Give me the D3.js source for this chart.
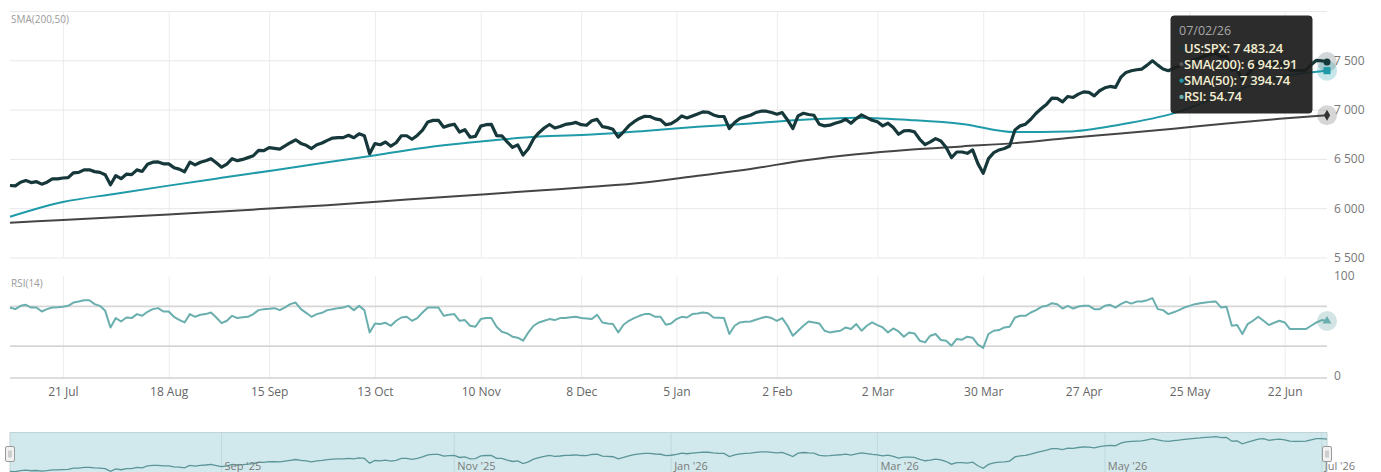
<!DOCTYPE html>
<html><head><meta charset="utf-8">
<script src="https://cdn.jsdelivr.net/npm/d3@7"></script>
<style>
body{margin:0;background:#fff}
svg{display:block;font-family:"Open Sans",sans-serif}
</style>
</head><body>
<svg id="c" width="1381" height="472"></svg>
<script>
// ---- DATA ----
const startDate = "2025-07-07", endDate = "2026-07-02";
const holidays = ["2025-09-01","2025-11-27","2025-12-25","2026-01-01","2026-01-19","2026-02-16","2026-04-03","2026-05-25","2026-06-19"];
const price = [
6230,6226,6263,6280,6260,6269,6244,6264,6297,6297,
6306,6310,6359,6363,6389,6390,6371,6363,6339,6238,
6330,6299,6345,6340,6389,6373,6446,6467,6469,6450,
6449,6411,6396,6370,6467,6439,6466,6481,6502,6460,
6416,6448,6502,6482,6495,6513,6532,6587,6584,6615,
6607,6600,6632,6664,6694,6657,6638,6605,6644,6661,
6688,6711,6715,6716,6740,6715,6754,6735,6553,6655,
6644,6671,6629,6664,6735,6735,6699,6738,6792,6875,
6891,6891,6822,6840,6852,6772,6796,6720,6729,6832,
6847,6851,6737,6734,6672,6617,6642,6539,6603,6705,
6766,6813,6849,6813,6829,6850,6857,6870,6847,6841,
6887,6901,6827,6817,6800,6721,6775,6835,6878,6910,
6932,6930,6906,6896,6846,6858,6890,6936,6916,6936,
6956,6977,6973,6946,6930,6930,6808,6869,6910,6926,
6943,6970,6984,6984,6970,6953,6970,6895,6808,6936,
6963,6950,6943,6852,6835,6842,6862,6876,6902,6862,
6909,6946,6919,6892,6876,6835,6862,6818,6750,6784,
6788,6774,6699,6645,6672,6706,6682,6615,6513,6570,
6570,6557,6591,6452,6354,6503,6564,6591,6605,6631,
6794,6835,6852,6902,6963,7011,7055,7116,7113,7078,
7133,7123,7157,7180,7174,7140,7191,7221,7235,7225,
7326,7377,7394,7404,7411,7451,7495,7451,7411,7394,
7420,7440,7470,7490,7510,7525,7545,7560,7575,7535,
7545,7400,7410,7300,7360,7420,7480,7500,7430,7460,
7480,7450,7400,7395,7395,7400,7455,7500,7495,7483.24];
const rsi = [
68.3,66.7,70,71,68.3,68.3,64.3,66.7,68.3,68.5,
69,70,73.3,74.3,75.7,75.7,71.7,70,65,48.3,
57.7,54.3,58.3,57.7,61.7,60,64,66.7,67.7,64.3,
64.3,59,56,53.3,61.7,59,61,61.7,63.3,58.3,
52.7,55,60,57.7,58.5,59,61.7,65.7,66.7,67,
67.7,65.7,68.5,71.7,73.3,66.7,63,59,61.7,63,
65.7,66.5,67.7,68.3,70,65.7,70,65.7,43.3,52.3,
51.7,53,50,55,58.3,59,55,57.7,63.3,68.3,
68.3,68.3,60,61,61.7,55,55.7,50,49,56.7,
57.7,57.7,49,44,42.3,39,38,35,43.3,50,
53.3,55,56.7,55.7,57.7,57.7,58.5,59,57.7,57.2,
56.7,61,53.3,52.3,51.7,43.3,51,55,57.7,60,
61.7,61.7,59,59,51,52.3,56.7,59,58.3,61.7,
62.3,63.3,62.5,58.3,58,57.7,41.7,50,53.3,54,
54.3,56,57.7,59,57.7,55,57.7,50,40,45,
50,54.3,53.3,52.3,45,43.3,44.3,45,48.3,46.7,
51.7,45,50,53.3,50.7,48.3,43.3,47.3,44.3,39,
43.3,42.3,35,33.3,40,41.7,35.7,35,30,36.7,
36,39,38,31,27.7,41.7,45,45.7,48.3,49,
58.3,60,60,63.3,65.7,69,70,72.7,71.7,67.3,
70,67.3,69.3,70,70,66.7,66.7,70,71,68.3,
71.7,74.3,72.3,74.3,74.3,75.7,77.7,66.7,65.7,61.7,
63.5,65.7,68.3,70,71.7,72.5,73.3,74,74.3,68.3,
69,50,50.7,41.7,51.7,55,59,55,50.7,53,
55,53.3,46.7,46.7,46.7,46.7,50,53.3,55.7,54.74];
const smaDates = ["2025-07-07","2025-07-21","2025-08-04","2025-08-18","2025-09-02","2025-09-16","2025-09-30","2025-10-14","2025-10-28","2025-11-11","2025-11-25","2025-12-10","2025-12-24","2026-01-09","2026-01-26","2026-02-09","2026-02-24","2026-03-10","2026-03-24","2026-04-08","2026-04-22","2026-05-06","2026-05-20","2026-06-04","2026-06-18","2026-07-02"];
const sma200 = [5853,5880,5907,5937,5967,5999,6031,6069,6105,6142,6180,6217,6261,6329,6398,6484,6548,6594,6627,6660,6712,6757,6806,6860,6906,6942.91];
const sma50 = [5913,6062,6147,6229,6308,6386,6465,6545,6625,6682,6726,6747,6784,6825,6859,6896,6918,6895,6855,6772,6778,6850,6962,7157,7329,7394.74];
const xTickDates = ["2025-07-21","2025-08-18","2025-09-15","2025-10-13","2025-11-10","2025-12-08","2026-01-05","2026-02-02","2026-03-02","2026-03-30","2026-04-27","2026-05-25","2026-06-22"];
const navTickDates = ["2025-09-01","2025-11-01","2026-01-01","2026-03-01","2026-05-01","2026-07-01"];
const priceGrid = [5500,6000,6500,7000,7500,8000];
const priceLabels = [5500,6000,6500,7000,7500];
const rsiLabels = [0,100];
const rsiLevels = [30,70];
const seriesNames = ["US:SPX","SMA(200)","SMA(50)","RSI"];

// ---- SETUP ----
const loc = d3.formatLocale({decimal:".",thousands:" ",grouping:[3],currency:["",""]});
const fInt = loc.format(","), f2 = loc.format(",.2f");
const parse = d3.utcParse("%Y-%m-%d"), iso = d3.utcFormat("%Y-%m-%d");
const hol = new Set(holidays);
const dates = [];
for (let d = parse(startDate); d <= parse(endDate); d = d3.utcDay.offset(d,1)) {
  const w = d.getUTCDay();
  if (w > 0 && w < 6 && !hol.has(iso(d))) dates.push(+d);
}
const idxOf = s => d3.bisectLeft(dates, +parse(s));
const L = 10, R = 1327;
const x = d3.scaleLinear().domain([0, dates.length-1]).range([L, R]);
const y = d3.scaleLinear().domain([5500, 8000]).range([257.5, 11]);
const yr = d3.scaleLinear().domain([0, 100]).range([375.5, 276]);
const yn = d3.scaleLinear().domain([6200, 7600]).range([472.3, 436]);
const svg = d3.select("#c");
const C = {price:"#17383a", s200:"#454545", s50:"#1f9aa8", rsi:"#6aaeae"};

const clean = g => g.select(".domain").remove();
const xt = xTickDates.map(idxOf);
const xLabel = new Map(xTickDates.map(s=>[idxOf(s), d3.utcFormat("%-d %b")(parse(s))]));

// vertical grid
svg.append("g").attr("transform","translate(0,11)")
  .call(d3.axisBottom(x).tickValues(xt).tickSize(246.5).tickFormat(""))
  .call(clean).call(g=>g.selectAll("line").attr("stroke","#ececec"));
svg.append("g").attr("transform","translate(0,276)")
  .call(d3.axisBottom(x).tickValues(xt).tickSize(102).tickFormat(""))
  .call(clean).call(g=>g.selectAll("line").attr("stroke","#ececec"));
// horizontal grid
svg.append("g").attr("transform",`translate(${L},0)`)
  .call(d3.axisLeft(y).tickValues(priceGrid).tickSize(-(R-L)).tickFormat(""))
  .call(clean).call(g=>g.selectAll("line").attr("stroke","#e8e8e8"));
svg.append("g").attr("transform",`translate(${L},0)`)
  .call(d3.axisLeft(yr).tickValues(rsiLevels).tickSize(-(R-L)).tickFormat(""))
  .call(clean).call(g=>g.selectAll("line").attr("stroke","#d6d6d6").attr("stroke-width",1.6));
svg.append("line").attr("x1",L).attr("x2",R).attr("y1",378).attr("y2",378)
  .attr("stroke","#d2d2d2").attr("stroke-width",1.6);

// labels
svg.append("text").attr("x",11).attr("y",23).attr("font-size",10).attr("fill","#9a9a9a").text("SMA(200,50)");
svg.append("text").attr("x",11).attr("y",287).attr("font-size",10).attr("fill","#9a9a9a").text("RSI(14)");

// series
const smaData = v => smaDates.map((d,i)=>({i:idxOf(d), v:v[i]}));
const sline = d3.line().curve(d3.curveMonotoneX).x(d=>x(d.i)).y(d=>y(d.v));
svg.append("path").attr("d",sline(smaData(sma200))).attr("fill","none").attr("stroke",C.s200).attr("stroke-width",2);
svg.append("path").attr("d",sline(smaData(sma50))).attr("fill","none").attr("stroke",C.s50).attr("stroke-width",2);
svg.append("path").attr("d",d3.line().x((d,i)=>x(i)).y(d=>y(d))(price))
  .attr("fill","none").attr("stroke",C.price).attr("stroke-width",3.2).attr("stroke-linejoin","round");
svg.append("path").attr("d",d3.line().x((d,i)=>x(i)).y(d=>yr(d))(rsi))
  .attr("fill","none").attr("stroke",C.rsi).attr("stroke-width",2).attr("stroke-linejoin","round");

// axes labels
svg.append("g").attr("transform",`translate(${R},0)`)
  .call(d3.axisRight(y).tickValues(priceLabels).tickSize(0).tickPadding(7).tickFormat(fInt))
  .call(clean).call(g=>g.selectAll("text").attr("fill","#777").attr("font-size",12).attr("font-family","Open Sans"));
svg.append("g").attr("transform",`translate(${R},0)`)
  .call(d3.axisRight(yr).tickValues(rsiLabels).tickSize(0).tickPadding(7))
  .call(clean).call(g=>g.selectAll("text").attr("fill","#777").attr("font-size",12).attr("font-family","Open Sans"));
svg.append("g").attr("transform","translate(0,378)")
  .call(d3.axisBottom(x).tickValues(xt).tickSize(0).tickPadding(9).tickFormat(i=>xLabel.get(i)))
  .call(clean).call(g=>g.selectAll("text").attr("fill","#666").attr("font-size",12).attr("font-family","Open Sans"));

// navigator
const nav = svg.append("g");
nav.append("rect").attr("x",L).attr("y",432.5).attr("width",R-L).attr("height",45)
  .attr("fill","#d1e9ec").attr("stroke","#c2d3d5");
const nt = navTickDates.map(idxOf);
nav.selectAll("line.g").data(nt).join("line").attr("x1",d=>x(d)).attr("x2",d=>x(d))
  .attr("y1",433).attr("y2",472).attr("stroke","#bfd9dd");
nav.append("path").attr("d",d3.line().x((d,i)=>x(i)).y(d=>yn(d))(price))
  .attr("fill","none").attr("stroke","#5a9598").attr("stroke-width",1.3);
nav.selectAll("text").data(navTickDates).join("text").attr("x",d=>x(idxOf(d))+3).attr("y",470)
  .attr("font-size",11).attr("fill","#7a7a7a").attr("font-family","Open Sans")
  .text(d=>d3.utcFormat("%b '%y")(parse(d)));
[L, R].forEach(hx=>{
  const h = nav.append("g").attr("transform",`translate(${hx},454)`);
  h.append("rect").attr("x",-4.5).attr("y",-7.5).attr("width",9).attr("height",15).attr("rx",1.5)
    .attr("fill","#f2f2f2").attr("stroke","#999");
  h.append("line").attr("x1",-1).attr("x2",-1).attr("y1",-3.5).attr("y2",3.5).attr("stroke","#aaa");
  h.append("line").attr("x1",1).attr("x2",1).attr("y1",-3.5).attr("y2",3.5).attr("stroke","#aaa");
});

// hover markers on last point
const li = dates.length-1, lx = x(li);
const mk = svg.append("g");
mk.append("circle").attr("cx",lx).attr("cy",y(sma200[sma200.length-1])).attr("r",10).attr("fill","rgba(69,69,69,0.22)");
mk.append("circle").attr("cx",lx).attr("cy",y(price[li])).attr("r",10).attr("fill","rgba(23,56,58,0.2)");
mk.append("circle").attr("cx",lx).attr("cy",y(sma50[sma50.length-1])).attr("r",10).attr("fill","rgba(31,154,168,0.25)");
mk.append("circle").attr("cx",lx).attr("cy",yr(rsi[li])).attr("r",10).attr("fill","rgba(106,168,167,0.3)");
mk.append("path").attr("transform",`translate(${lx},${y(sma200[sma200.length-1])})`)
  .attr("d",d3.symbol(d3.symbolDiamond,34)()).attr("fill","#333");
mk.append("circle").attr("cx",lx).attr("cy",y(price[li])).attr("r",3.5).attr("fill",C.price);
mk.append("path").attr("transform",`translate(${lx},${y(sma50[sma50.length-1])})`)
  .attr("d",d3.symbol(d3.symbolSquare,50)()).attr("fill",C.s50);
mk.append("path").attr("transform",`translate(${lx},${yr(rsi[li])})`)
  .attr("d",d3.symbol(d3.symbolTriangle,34)()).attr("fill",C.rsi);

// tooltip
const tt = svg.append("g").attr("transform","translate(1171,16)");
tt.append("rect").attr("width",141).attr("height",97).attr("rx",3)
  .attr("fill","rgba(28,28,28,0.93)").attr("stroke","#2a2a2a");
tt.append("text").attr("x",8).attr("y",19).attr("font-size",12.5).attr("fill","#a8a8a8")
  .text(d3.utcFormat("%m/%d/%y")(new Date(dates[li])));
const vals = [price[li], sma200[sma200.length-1], sma50[sma50.length-1], rsi[li]];
const cols = [C.price, "#555", C.s50, C.rsi];
seriesNames.forEach((n,k)=>{
  const yy = 36.5 + k*16.3;
  tt.append("circle").attr("cx",10.5).attr("cy",yy-4.5).attr("r",2.2).attr("fill",cols[k]);
  tt.append("text").attr("x",13).attr("y",yy).attr("font-size",13).attr("font-weight",600)
    .attr("fill","#f3eed2").attr("letter-spacing",-0.2).text(`${n}: ${f2(vals[k])}`);
});
</script>
</body></html>
